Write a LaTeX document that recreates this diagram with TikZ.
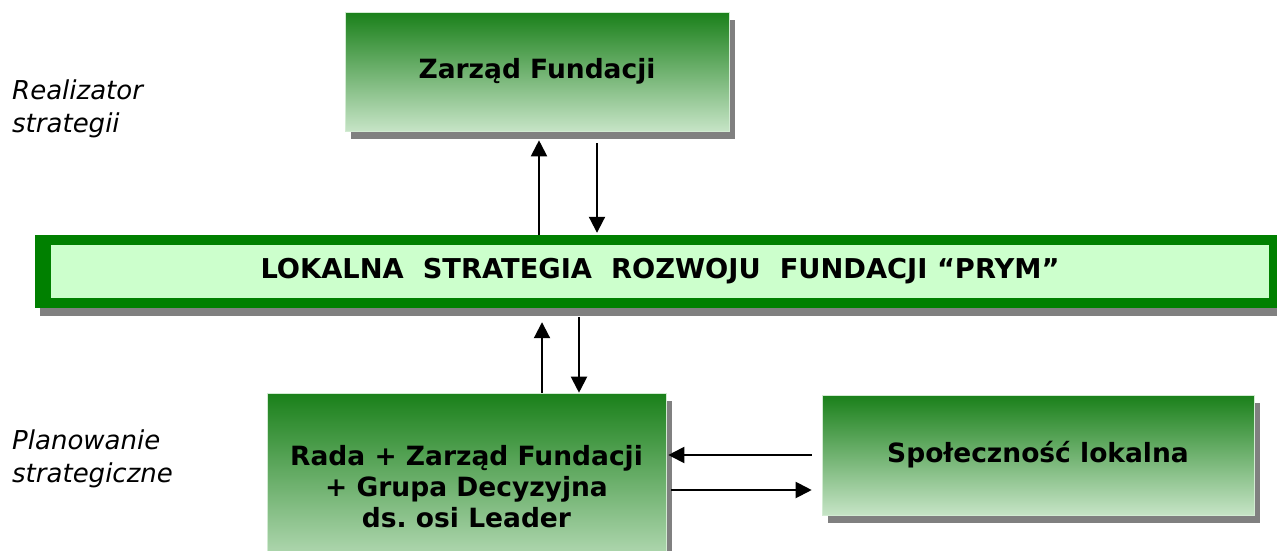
\documentclass[tikz,border=0pt]{standalone}
\usepackage{fontspec}
\setmainfont{DejaVu Sans}
\usetikzlibrary{shadows,arrows.meta}
\definecolor{gdark}{RGB}{26,128,26}
\definecolor{glight}{RGB}{198,228,198}
\definecolor{gedge}{RGB}{210,235,210}
\definecolor{bandgreen}{RGB}{0,128,0}
\definecolor{bandlight}{RGB}{204,255,204}
\definecolor{shadowgray}{RGB}{128,128,128}
\frenchspacing
\begin{document}
\begin{tikzpicture}[x=1pt,y=-1pt,
  gbox/.style={rectangle, top color=gdark, bottom color=glight, draw=gedge, line width=0.6pt,
    font=\bfseries\fontsize{26.5}{31}\selectfont, align=center, inner sep=0pt,
    drop shadow={shadow xshift=6pt, shadow yshift=-8pt, fill=shadowgray, opacity=1}},
  lab/.style={font=\itshape\fontsize{26}{33}\selectfont, anchor=base west, inner sep=0pt},
  arr/.style={line width=2pt, -{Triangle[length=16pt,width=16pt]}}]
\useasboundingbox (0,0) rectangle (1277,550);

% top box
\node[gbox, minimum width=384pt, minimum height=119pt] (zarzad) at (537,71.5) {Zarząd Fundacji};

% band
\node[rectangle, fill=bandgreen, inner sep=0pt, minimum width=1242pt, minimum height=73pt,
  drop shadow={shadow xshift=5pt, shadow yshift=-8pt, fill=shadowgray, opacity=1}] (band) at (656,271.5) {};
\node[rectangle, fill=bandlight, inner sep=0pt, minimum width=1218pt, minimum height=53pt,
  font=\bfseries\fontsize{27.3}{31}\selectfont] (lsr) at (660,271.5)
  {LOKALNA\ \ STRATEGIA\ \ ROZWOJU\ \ FUNDACJI “PRYM”};

% bottom boxes
\node[gbox, minimum width=399pt, minimum height=187pt] (rada) at (466.5,486.5)
  {Rada + Zarząd Fundacji\\+ Grupa Decyzyjna\\ds. osi Leader};
\node[gbox, minimum width=432pt, minimum height=120pt] (spol) at (1038,455) {Społeczność lokalna};

% side labels
\node[lab] (real1) at (12,99) {Realizator};
\node[lab] (real2) at (12,132) {strategii};
\node[lab] (plan1) at (12,449) {Planowanie};
\node[lab] (plan2) at (12,482) {strategiczne};

% arrows top
\coordinate (t1) at ([xshift=2pt,yshift=-9pt]zarzad.south);
\coordinate (t2) at ([xshift=60pt,yshift=-12pt]zarzad.south);
\draw[arr] (t1 |- band.north) -- (t1);
\draw[arr] (t2) -- ([yshift=2pt]t2 |- band.north);

% arrows bottom
\coordinate (b1) at ([xshift=75.5pt]rada.north);
\coordinate (b2) at ([xshift=112.5pt]rada.north);
\draw[arr] (b1) -- ([yshift=-14pt]b1 |- band.south);
\draw[arr] ([yshift=-9pt]b2 |- band.south) -- (b2);

% horizontal arrows
\coordinate (h1) at ([xshift=-10pt]spol.west);
\coordinate (h2) at ([xshift=-10pt,yshift=-35pt]spol.west);
\draw[arr] (h1) -- ([xshift=2pt]h1 -| rada.east);
\draw[arr] ([xshift=5pt]h2 -| rada.east) -- (h2);
\end{tikzpicture}
\end{document}
